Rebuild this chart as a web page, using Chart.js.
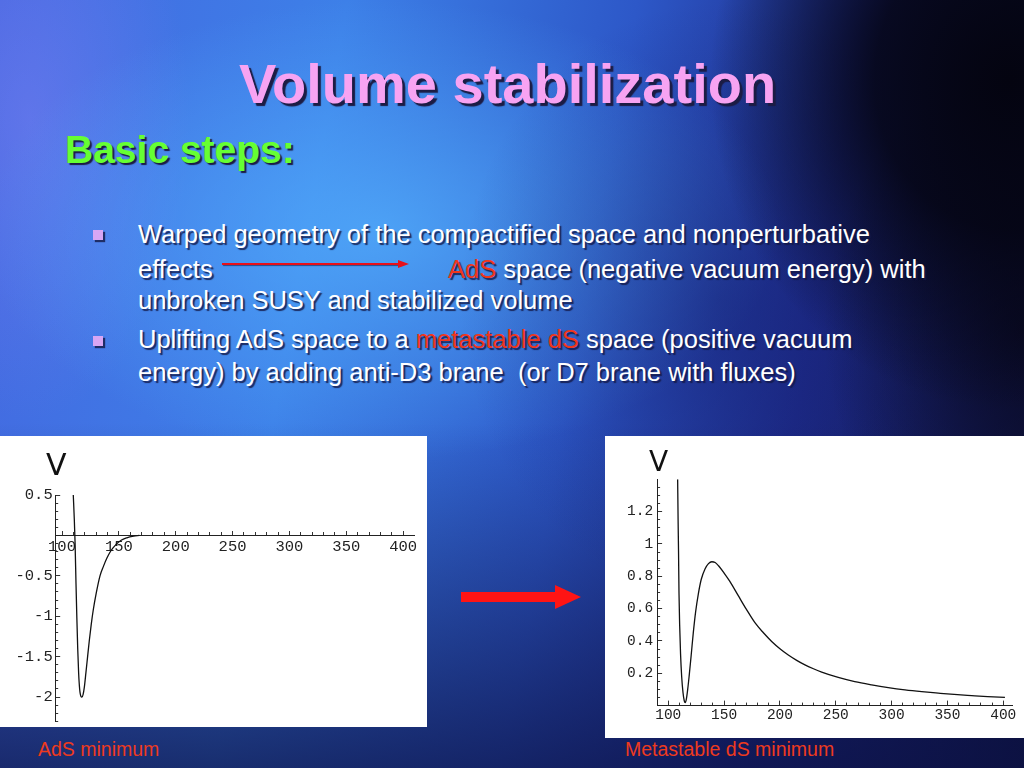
<!DOCTYPE html>
<html>
<head>
<meta charset="utf-8">
<script src="https://cdn.jsdelivr.net/npm/chart.js@4"></script>
<style>
  body { margin: 0; width: 1024px; height: 768px; overflow: hidden; font-family: "Liberation Sans", Arial, sans-serif; }
  #slide {
    position: relative; width: 1024px; height: 768px; overflow: hidden;
    background:
      radial-gradient(ellipse 300px 330px at 1010px 80px, rgba(4,4,16,1) 0%, rgba(4,4,16,0.85) 45%, rgba(4,4,16,0) 100%),
      radial-gradient(ellipse 200px 260px at 1024px 330px, rgba(8,8,30,0.8), rgba(8,8,30,0) 100%),
      radial-gradient(ellipse 260px 300px at 720px 300px, rgba(20,30,110,0.45), rgba(20,30,110,0) 100%),
      radial-gradient(ellipse 400px 230px at 380px 230px, rgba(85,180,255,0.7), rgba(85,180,255,0) 100%),
      radial-gradient(ellipse 160px 300px at 30px 120px, rgba(160,140,255,0.3), rgba(160,140,255,0) 100%),
      linear-gradient(to bottom, rgba(12,18,70,0) 55%, rgba(12,18,70,0.75) 100%),
      linear-gradient(100deg, #4468e0 0%, #3d80e8 30%, #2d58c8 55%, #1d2a88 75%, #0d1038 100%);
  }
  .t { position: absolute; white-space: pre; line-height: 1; }
  .title { font-size: 56px; font-weight: bold; color: #f7a3f2; text-shadow: 3px 3px 1px #1c1c44; }
  .sub { font-size: 39px; font-weight: bold; color: #66ff33; text-shadow: 2px 2px 1px #1c1c44; }
  .b { font-size: 25.5px; color: #ffffff; text-shadow: 2px 2px 1px rgba(20,25,70,0.85); }
  .red { color: #f0361c; }
  .sq { position: absolute; width: 10px; height: 10px; background: #d8a6f4; box-shadow: 2px 2px 1px rgba(20,25,70,0.8); }
  .panel { position: absolute; background: #ffffff; }
  .cap { font-size: 19.5px; color: #ee3a1e; }
  .v { position: absolute; font-family: "DejaVu Sans", sans-serif; color: #111; line-height: 1; }
</style>
</head>
<body>
<div id="slide">
  <div class="t title" style="left:0; width:1015px; text-align:center; top:56px;">Volume stabilization</div>
  <div class="t sub" style="left:65px; top:130px;">Basic steps:</div>

  <div class="sq" style="left:93px; top:230px;"></div>
  <div class="t b" style="left:138px; top:222px;">Warped geometry of the compactified space and nonperturbative</div>
  <div class="t b" style="left:138px; top:257px;">effects</div>
  <div style="position:absolute; left:222px; top:263px; width:178px; height:2px; background:#e8101a; box-shadow:1px 1px 1px rgba(20,25,70,0.6);"></div>
  <div style="position:absolute; left:398px; top:260px; width:0; height:0; border-top:4px solid transparent; border-bottom:4px solid transparent; border-left:11px solid #e8101a;"></div>
  <div class="t b" style="left:448px; top:257px;"><span class="red">AdS</span> space (negative vacuum energy) with</div>
  <div class="t b" style="left:138px; top:288px;">unbroken SUSY and stabilized volume</div>

  <div class="sq" style="left:93px; top:336px;"></div>
  <div class="t b" style="left:138px; top:327px;">Uplifting AdS space to a <span class="red">metastable dS</span> space (positive vacuum</div>
  <div class="t b" style="left:138px; top:360px;">energy) by adding anti-D3 brane  (or D7 brane with fluxes)</div>

  <div class="panel" style="left:0; top:436px; width:427px; height:291px;">
    <canvas id="left" width="427" height="291"></canvas>
    <div class="v" style="left:46px; top:14px; font-size:30px;">V</div>
  </div>
  <div class="panel" style="left:605px; top:436px; width:419px; height:302px;">
    <canvas id="right" width="419" height="302"></canvas>
    <div class="v" style="left:44px; top:12px; font-size:28px;">V</div>
  </div>

  <div style="position:absolute; left:461px; top:592px; width:96px; height:10px; background:#ff1414;"></div>
  <div style="position:absolute; left:555px; top:585px; width:0; height:0; border-top:12px solid transparent; border-bottom:12px solid transparent; border-left:26px solid #ff1414;"></div>

  <div class="t cap" style="left:38px; top:740px;">AdS minimum</div>
  <div class="t cap" style="left:625px; top:740px;">Metastable dS minimum</div>
</div>

<script>
// AdS potential (left plot)
const leftX = [109.9, 110.8, 111.5, 112.3, 113.0, 113.8, 114.6, 115.5, 116.6, 117.5, 118.5, 119.6,
  121.0, 122.5, 124.0, 125.7, 127.5, 130.0, 133.4, 136.5, 139.5, 143.0, 147.0, 152.0, 157.0, 163.0, 168.0];
const leftV = [0.5, 0.2, -0.1, -0.6, -1.0, -1.4, -1.7, -1.9, -1.99, -2.0, -1.97, -1.88,
  -1.70, -1.50, -1.30, -1.10, -0.92, -0.72, -0.50, -0.38, -0.28, -0.19, -0.12, -0.06, -0.03, -0.01, 0];

// uplifted dS potential (right plot)
const rightX = [108.4, 108.8, 109.2, 109.6, 110.2, 111.0, 112.0, 113.2, 114.3, 115.2, 116.2, 117.4,
  118.8, 120.5, 122.4, 124.5, 126.9, 129.5, 132.9, 136.0, 139.0, 142.0, 145.0, 150.0, 155.0, 162.7,
  170.0, 177.6, 185.0, 192.6, 200.0, 207.5, 215.0, 222.4, 230.0, 237.4, 252.2, 267.0, 282.1, 297.0,
  312.0, 327.0, 341.8, 356.0, 371.7, 386.0, 401.5];
const rightV = [1.40, 1.15, 0.95, 0.70, 0.50, 0.32, 0.18, 0.08, 0.03, 0.018, 0.04, 0.10,
  0.19, 0.31, 0.45, 0.58, 0.69, 0.78, 0.845, 0.878, 0.89, 0.885, 0.865, 0.82, 0.77, 0.68,
  0.595, 0.513, 0.452, 0.397, 0.352, 0.313, 0.280, 0.252, 0.228, 0.207, 0.174, 0.148, 0.128, 0.111,
  0.097, 0.086, 0.077, 0.069, 0.062, 0.056, 0.051];

const leftXTicks = [100, 150, 200, 250, 300, 350, 400];
const leftYTicks = [0.5, -0.5, -1, -1.5, -2];
const rightXTicks = [100, 150, 200, 250, 300, 350, 400];
const rightYTicks = [0.2, 0.4, 0.6, 0.8, 1, 1.2];

// minor tick positions
function range(from, to, step) {
  const out = [];
  const n = Math.round((to - from) / step);
  for (let i = 0; i <= n; i++) out.push(Math.round((from + i * step) * 1000) / 1000);
  return out;
}

// fixed box size for each axis so the plot area lands where the picture has it
const fitTo = size => s => {
  if (s.isHorizontal()) s.height = size; else s.width = size;
  s.paddingLeft = s.paddingRight = s.paddingTop = s.paddingBottom = 0;
};

function axis(dir, position, min, max, values, labels, tickLen, pad, size, boxSize) {
  return {
    type: 'linear', axis: dir, position, min, max,
    weight: labels ? 1 : 0,
    afterBuildTicks: s => { s.ticks = values.map(v => ({ value: v })); },
    afterFit: fitTo(boxSize || 0),
    border: { display: labels, color: '#222', width: 1 },
    grid: { drawOnChartArea: false, drawTicks: true, tickLength: tickLen, tickColor: '#333', tickWidth: 1 },
    ticks: labels
      ? { display: true, padding: pad, color: '#222', autoSkip: false, maxRotation: 0,
          font: { family: 'Liberation Mono', size }, callback: v => String(v) }
      : { display: false }
  };
}

function plot(id, xs, vs, scales, padding) {
  new Chart(document.getElementById(id), {
    type: 'line',
    data: {
      datasets: [{
        data: xs.map((x, i) => ({ x, y: vs[i] })),
        borderColor: '#111',
        borderWidth: 1.3,
        pointRadius: 0,
        cubicInterpolationMode: 'monotone'
      }]
    },
    options: {
      responsive: false,
      animation: false,
      layout: { padding },
      plugins: { legend: { display: false }, tooltip: { enabled: false } },
      scales
    }
  });
}

plot('left', leftX, leftV, {
  x: axis('x', { y: 0 }, 94, 410, leftXTicks, true, -5, 7, 15.5, 0),
  xm: axis('x', { y: 0 }, 94, 410, range(100, 400, 10), false, -3),
  y: axis('y', 'left', -2.3, 0.5, leftYTicks, true, -5, 7.5, 15.5, 55.2),
  ym: axis('y', 'left', -2.3, 0.5, range(-2.3, 0.5, 0.1), false, -3)
}, { left: 0, right: 12.5, top: 59, bottom: 5.7 });

plot('right', rightX, rightV, {
  x: axis('x', 'bottom', 90, 408, rightXTicks, true, -5, 6, 14.5, 32.4),
  xm: axis('x', 'bottom', 90, 408, range(100, 400, 10), false, -3),
  y: axis('y', 'left', 0, 1.4, rightYTicks, true, -5, 9, 14.5, 52.1),
  ym: axis('y', 'left', 0, 1.4, range(0.05, 1.35, 0.05), false, -3)
}, { left: 0, right: 11.8, top: 43.3, bottom: 0 });
</script>
</body>
</html>
